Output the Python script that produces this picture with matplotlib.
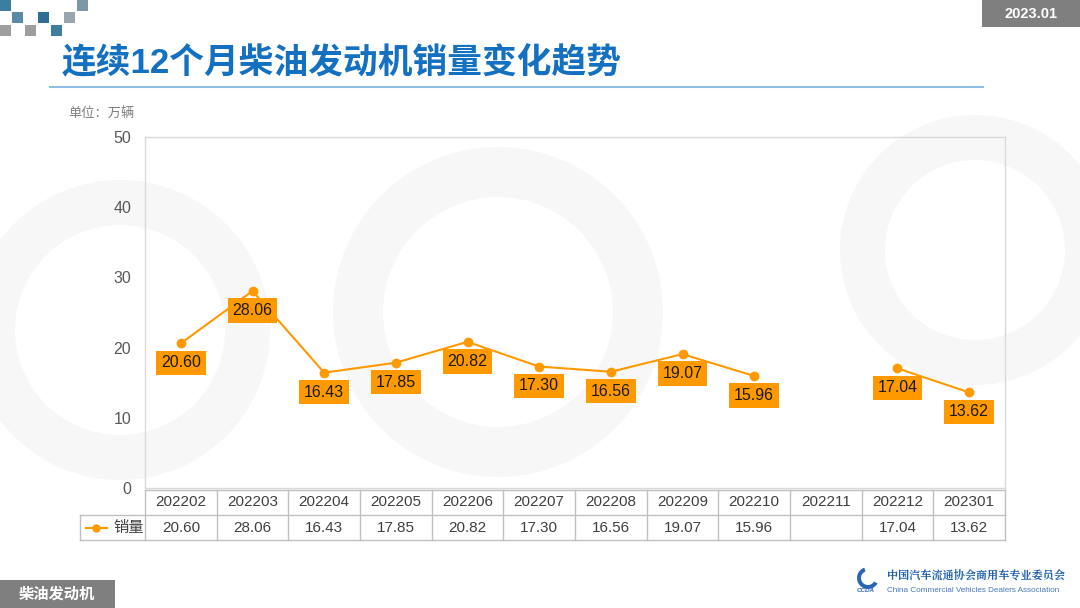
import matplotlib
matplotlib.use("Agg")
import matplotlib.pyplot as plt
from matplotlib.patches import Rectangle, Wedge
import numpy as np

plt.rcParams['font.family'] = ['Liberation Sans', 'Noto Sans CJK SC', 'DejaVu Sans']

months = ["202202", "202203", "202204", "202205", "202206", "202207",
          "202208", "202209", "202210", "202211", "202212", "202301"]
sales = [20.60, 28.06, 16.43, 17.85, 20.82, 17.30, 16.56, 19.07, 15.96, None, 17.04, 13.62]
yticks = [0, 10, 20, 30, 40, 50]
series_name = "销量"
title = "连续12个月柴油发动机销量变化趋势"
unit = "单位：万辆"
date_tag = "2023.01"
footer_tag = "柴油发动机"

W, H = 1080, 608
fig = plt.figure(figsize=(W / 100, H / 100), dpi=100)
fig.patch.set_facecolor("white")

def fx(px):
    return px / W

def fy(py):
    return 1 - py / H

# Background overlay axes in pixel coordinates
bg = fig.add_axes([0, 0, 1, 1], zorder=0)
bg.set_xlim(0, W)
bg.set_ylim(H, 0)
bg.axis("off")

# faint watermark rings
for (cx, cy, r, w) in [(498, 312, 165, 50), (120, 330, 150, 45), (975, 250, 135, 45)]:
    bg.add_patch(Wedge((cx, cy), r, 0, 360, width=w, facecolor="#f7f7f7", edgecolor="none"))

# decorative squares top-left
squares = [(0, 0, "#3a7fa0"), (77, 0, "#7e97a6"),
           (12, 12, "#5a8aa6"), (38, 12, "#2f6f93"), (64, 12, "#9aa5ad"),
           (0, 25, "#9e9e9e"), (25, 25, "#9e9e9e"), (51, 25, "#3f7d9d")]
for (x, y, c) in squares:
    bg.add_patch(Rectangle((x, y), 11, 11, facecolor=c, edgecolor="none"))

# title
bg.text(62, 63, title, fontsize=25, fontweight="bold", color="#1470c0",
        va="center", ha="left", family=["Liberation Sans", "Noto Sans CJK SC"])
bg.plot([50, 983], [87, 87], color="#8ebde6", lw=1.5)
bg.text(68, 113, unit, fontsize=9.5, color="#7f7f7f", va="center", ha="left",
        family=["Noto Sans CJK SC"])

# date tag
bg.add_patch(Rectangle((982, 0), 98, 27, facecolor="#7f7f7f", edgecolor="none"))
bg.text(1031, 14, date_tag, fontsize=10.5, fontweight="bold", color="white",
        ha="center", va="center")

# footer tag
bg.add_patch(Rectangle((0, 580), 115, 28, facecolor="#7f7f7f", edgecolor="none"))
bg.text(57, 594, footer_tag, fontsize=11, fontweight="bold", color="white",
        ha="center", va="center", family=["Noto Sans CJK SC"])

# logo text
bg.text(887, 576, "中国汽车流通协会商用车专业委员会", fontsize=8, color="#1f5fb0",
        ha="left", va="center", family=["Noto Serif CJK SC", "Noto Sans CJK SC"], fontweight="bold")
bg.text(887, 590, "China Commercial Vehicles Dealers Association", fontsize=5.9, color="#4a78b8",
        ha="left", va="center")
bg.add_patch(Wedge((868, 578), 11, 30, 250, width=4, facecolor="#2a66b8", edgecolor="none"))
bg.text(866, 590, "CCDA", fontsize=4.5, color="#2a66b8", ha="center", va="center",
        fontweight="bold", style="italic")

# main chart axes
L, R, T, B = 145, 1005, 137, 488
ax = fig.add_axes([fx(L), fy(B), fx(R - L), (B - T) / H], zorder=2)
ax.patch.set_alpha(0)
x = np.arange(len(months))
y = np.array([np.nan if v is None else v for v in sales])
orange = "#ff9900"
ax.plot(x, y, color=orange, lw=1.5, marker="o", markersize=6, zorder=3)
ax.set_xlim(-0.5, len(months) - 0.5)
ax.set_ylim(yticks[0], yticks[-1])
ax.set_yticks(yticks)
ax.set_yticklabels([str(t) for t in yticks], fontsize=11.5, color="#595959")
ax.tick_params(axis="y", length=0, pad=10)
ax.set_xticks([])
for s in ax.spines.values():
    s.set_color("#d9d9d9")
    s.set_linewidth(1)

for xi, v in zip(x, sales):
    if v is None:
        continue
    ax.annotate(f"{v:.2f}", (xi, v), xytext=(0, -14), textcoords="offset points",
                ha="center", va="center", fontsize=11.5, color="#1a1a1a",
                bbox=dict(boxstyle="square,pad=0.3", facecolor=orange, edgecolor="none"),
                zorder=4)

# data table axes
col_w = (R - L) / len(months)
legend_w = (L - 80) / col_w
tb = fig.add_axes([fx(80), fy(540), fx(R - 80), 50 / H], zorder=2)
tb.set_xlim(-0.5 - legend_w, len(months) - 0.5)
tb.set_ylim(0, 2)
tb.axis("off")
gc = "#bfbfbf"
n = len(months)
tb.plot([-0.5, n - 0.5], [2, 2], color=gc, lw=1, clip_on=False)
tb.plot([-0.5 - legend_w, n - 0.5], [1, 1], color=gc, lw=1, clip_on=False)
tb.plot([-0.5 - legend_w, n - 0.5], [0, 0], color=gc, lw=1, clip_on=False)
for k in range(n + 1):
    tb.plot([k - 0.5, k - 0.5], [0, 2], color=gc, lw=1, clip_on=False)
tb.plot([-0.5 - legend_w] * 2, [0, 1], color=gc, lw=1, clip_on=False)

for xi, m, v in zip(x, months, sales):
    tb.text(xi, 1.5, m, ha="center", va="center", fontsize=11, color="#404040")
    if v is not None:
        tb.text(xi, 0.5, f"{v:.2f}", ha="center", va="center", fontsize=11, color="#404040")

lx0 = -0.5 - legend_w + 0.08
tb.plot([lx0, lx0 + 0.3], [0.5, 0.5], color=orange, lw=1.5, clip_on=False)
tb.plot([lx0 + 0.15], [0.5], "o", color=orange, markersize=5, clip_on=False)
tb.text(lx0 + 0.38, 0.5, series_name, ha="left", va="center", fontsize=11,
        color="#404040", family=["Noto Sans CJK SC"])

fig.savefig("out.png", dpi=100, facecolor="white")
